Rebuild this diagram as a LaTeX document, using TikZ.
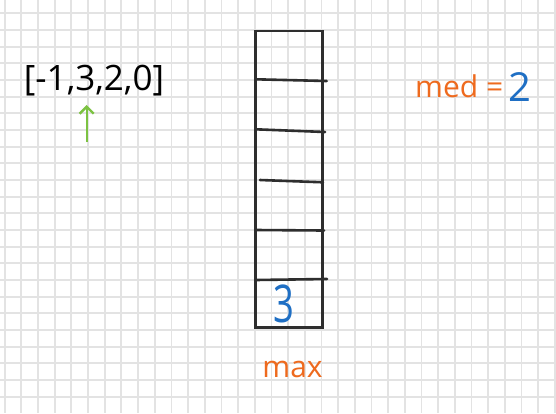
\documentclass[tikz,border=0pt]{standalone}
\usepackage{fontspec}
\setmainfont{Open Sans}
\usetikzlibrary{arrows.meta}
\definecolor{malha}{HTML}{E3E3E3}
\definecolor{traco}{HTML}{2E2E2E}
\definecolor{laranja}{HTML}{EE6A1E}
\definecolor{azul}{HTML}{1F6FC4}
\definecolor{verde}{HTML}{7CC242}
\tikzset{
  gridline/.style={malha, line width=1.8pt},
  stackline/.style={traco, line width=2.6pt, line cap=round},
  pointer/.style={verde, line width=2.4pt, -{Straight Barb[length=7pt,width=14pt,line width=2.4pt]}},
}
\begin{document}
\begin{tikzpicture}[x=1pt,y=-1pt]
\useasboundingbox (0,0) rectangle (556,413);
\fill[white] (0,0) rectangle (556,413);

% malha (papel quadriculado)
\foreach \k in {0,...,33} {
  \draw[gridline] (4.7+16.67*\k, 0) -- (4.7+16.67*\k, 413);
}
\foreach \k in {0,...,23} {
  \draw[gridline] (0, 13.3+16.67*\k) -- (556, 13.3+16.67*\k);
}

% vetor e ponteiro
\node[font=\fontsize{35}{35}\selectfont, inner sep=0pt] (vec) at (94,81) {[-1,3,2,0]};
\coordinate (tail) at (86.7,142);
\coordinate (tip) at (86.7,105);
\draw[pointer] (tail) -- (tip);

% pilha (heap max)
\draw[stackline] (255.7,31) rectangle (322.3,327.3);
\draw[stackline] (255.7,79.3) -- (326.7,81);
\draw[stackline] (255.7,129.3) -- (325,132);
\draw[stackline] (260,180) -- (323,182.3);
\draw[stackline] (255.7,230) -- (324,230.5);
\draw[stackline] (255.7,280) -- (327,279);
\node[azul, inner sep=0pt] (top) at (284,304) {\scalebox{0.7}[1]{\fontsize{52}{52}\selectfont 3}};

% rótulos
\node[laranja, anchor=base, inner sep=0pt, font=\fontsize{30}{30}\selectfont] (maxlabel) at (292.5,377) {max};
\node[laranja, anchor=base west, inner sep=0pt, font=\fontsize{30}{30}\selectfont] (medlabel) at (415,97) {med =};
\node[azul, anchor=base west, inner sep=0pt, font=\fontsize{40}{40}\selectfont] (medval) at (508,101) {2};

\end{tikzpicture}
\end{document}
